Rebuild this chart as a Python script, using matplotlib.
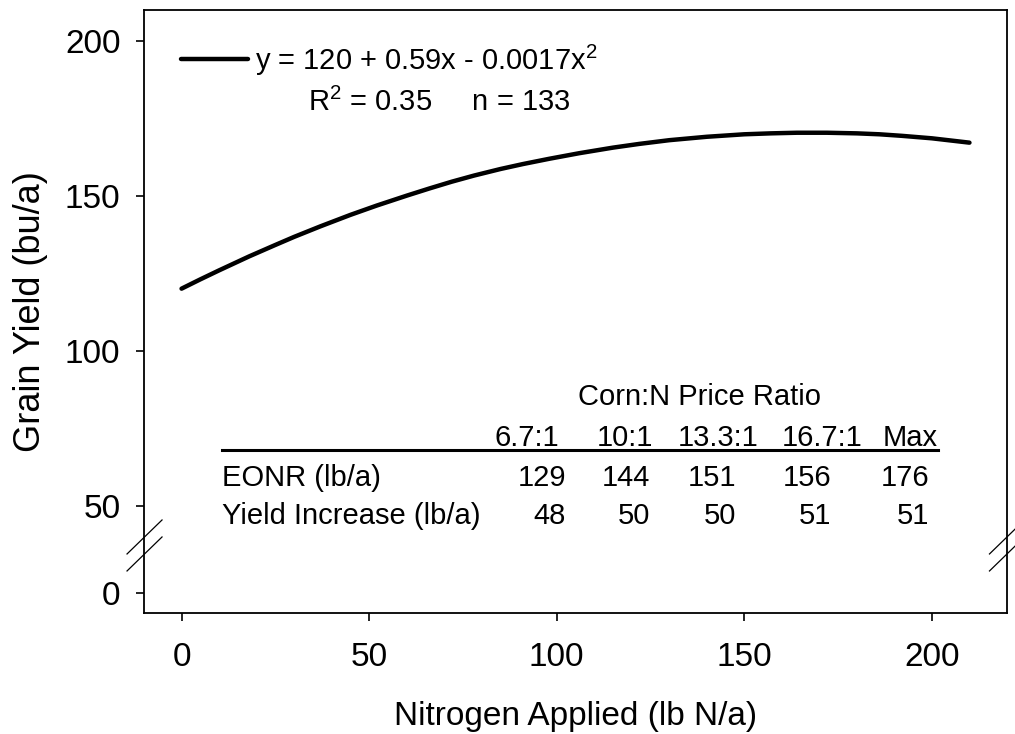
import numpy as np
import matplotlib
matplotlib.use("Agg")
import matplotlib.pyplot as plt

plt.rcParams['font.family'] = ['Liberation Sans', 'DejaVu Sans']
plt.rcParams['mathtext.fontset'] = 'custom'
plt.rcParams['mathtext.rm'] = 'Liberation Sans'
plt.rcParams['mathtext.it'] = 'Liberation Sans:italic'

# fitted curve
n_applied = [0, 5, 10, 18, 25, 30, 37, 45, 52, 60, 66, 72, 78, 85, 91, 98,
             106, 115, 122, 130, 140, 150, 157, 164, 172, 180, 186, 192, 200, 210]
yield_fit = [120.0, 123.0, 125.9, 130.4, 134.1, 136.7, 140.1, 143.8, 146.8,
             150.0, 152.3, 154.5, 156.5, 158.6, 160.2, 161.9, 163.7, 165.5,
             166.7, 167.9, 169.0, 169.8, 170.1, 170.3, 170.3, 170.1, 169.8,
             169.3, 168.5, 167.1]

equation = r'y = 120 + 0.59x - 0.0017x$^{2}$'
fit_stats = r'R$^{2}$ = 0.35     n = 133'

# inset table
price_ratios = ['6.7:1', '10:1', '13.3:1', '16.7:1', 'Max']
eonr = [129, 144, 151, 156, 176]
yield_increase = [48, 50, 50, 51, 51]
row_labels = ['EONR (lb/a)', 'Yield Increase (lb/a)']

x_ticks = [0, 50, 100, 150, 200]
y_ticks = [0, 50, 100, 150, 200]

# broken y axis: everything below 50 is squeezed
k = 0.565


def fwd(y):
    y = np.asarray(y, dtype=float)
    return np.where(y >= 50, y, 50 - (50 - y) * k)


def inv(t):
    t = np.asarray(t, dtype=float)
    return np.where(t >= 50, t, 50 - (50 - t) / k)


fig = plt.figure(figsize=(10.15, 7.34), dpi=100)
ax = fig.add_axes([0.1419, 0.1653, 0.8502, 0.8211])
ax.set_yscale('function', functions=(fwd, inv))

ax.plot(n_applied, yield_fit, color='black', linewidth=3.2,
        solid_capstyle='round', solid_joinstyle='round')

ax.set_xlim(-10, 220)
ax.set_ylim(-11.1, 209.9)
ax.set_xticks(x_ticks)
ax.set_yticks(y_ticks)
ax.yaxis.set_minor_locator(plt.NullLocator())
ax.tick_params(direction='out', length=6, width=1.2, labelsize=24,
               top=False, right=False)
ax.tick_params(axis='x', pad=15)
ax.tick_params(axis='y', pad=11)
for sp in ax.spines.values():
    sp.set_linewidth(1.3)

ax.set_xlabel('Nitrogen Applied (lb N/a)', fontsize=24, labelpad=20)
ax.set_ylabel('Grain Yield (bu/a)', fontsize=26, labelpad=12)


def axx(px):
    return (px - 144) / 863.0


def axy(py):
    return (612.7 - py) / 602.7


# break marks on both spines
for cx in (144.5, 1007):
    for cy in (537, 554):
        ax.plot([axx(cx - 17.5), axx(cx + 17.5)], [axy(cy + 17), axy(cy - 17)],
                transform=ax.transAxes, color='black', linewidth=0.9,
                clip_on=False)

# legend-like key
ax.plot([axx(181), axx(248)], [axy(59), axy(59)], transform=ax.transAxes,
        color='black', linewidth=3.2, solid_capstyle='round')
ax.text(axx(255), axy(70), equation, transform=ax.transAxes, fontsize=21,
        va='baseline', ha='left')
ax.text(axx(308), axy(111), fit_stats, transform=ax.transAxes, fontsize=21,
        va='baseline', ha='left')

# table
ts = 21
ax.text(axx(700), axy(405), 'Corn:N Price Ratio', transform=ax.transAxes,
        fontsize=ts, ha='center', va='baseline')
head_x = [527, 625, 718, 822, 910]
num_x = [566, 650, 736, 831, 929]
for hx, lab in zip(head_x, price_ratios):
    ax.text(axx(hx), axy(446), lab, transform=ax.transAxes, fontsize=ts,
            ha='center', va='baseline')
ax.plot([axx(222), axx(938)], [axy(450), axy(450)], transform=ax.transAxes,
        color='black', linewidth=2.2)
for row, (lab, vals) in enumerate(zip(row_labels, [eonr, yield_increase])):
    by = 486 + row * 38
    ax.text(axx(222), axy(by), lab, transform=ax.transAxes, fontsize=ts,
            ha='left', va='baseline')
    for nx, v in zip(num_x, vals):
        ax.text(axx(nx), axy(by), str(v), transform=ax.transAxes,
                fontsize=ts, ha='right', va='baseline')

fig.savefig('out.png', dpi=100)
